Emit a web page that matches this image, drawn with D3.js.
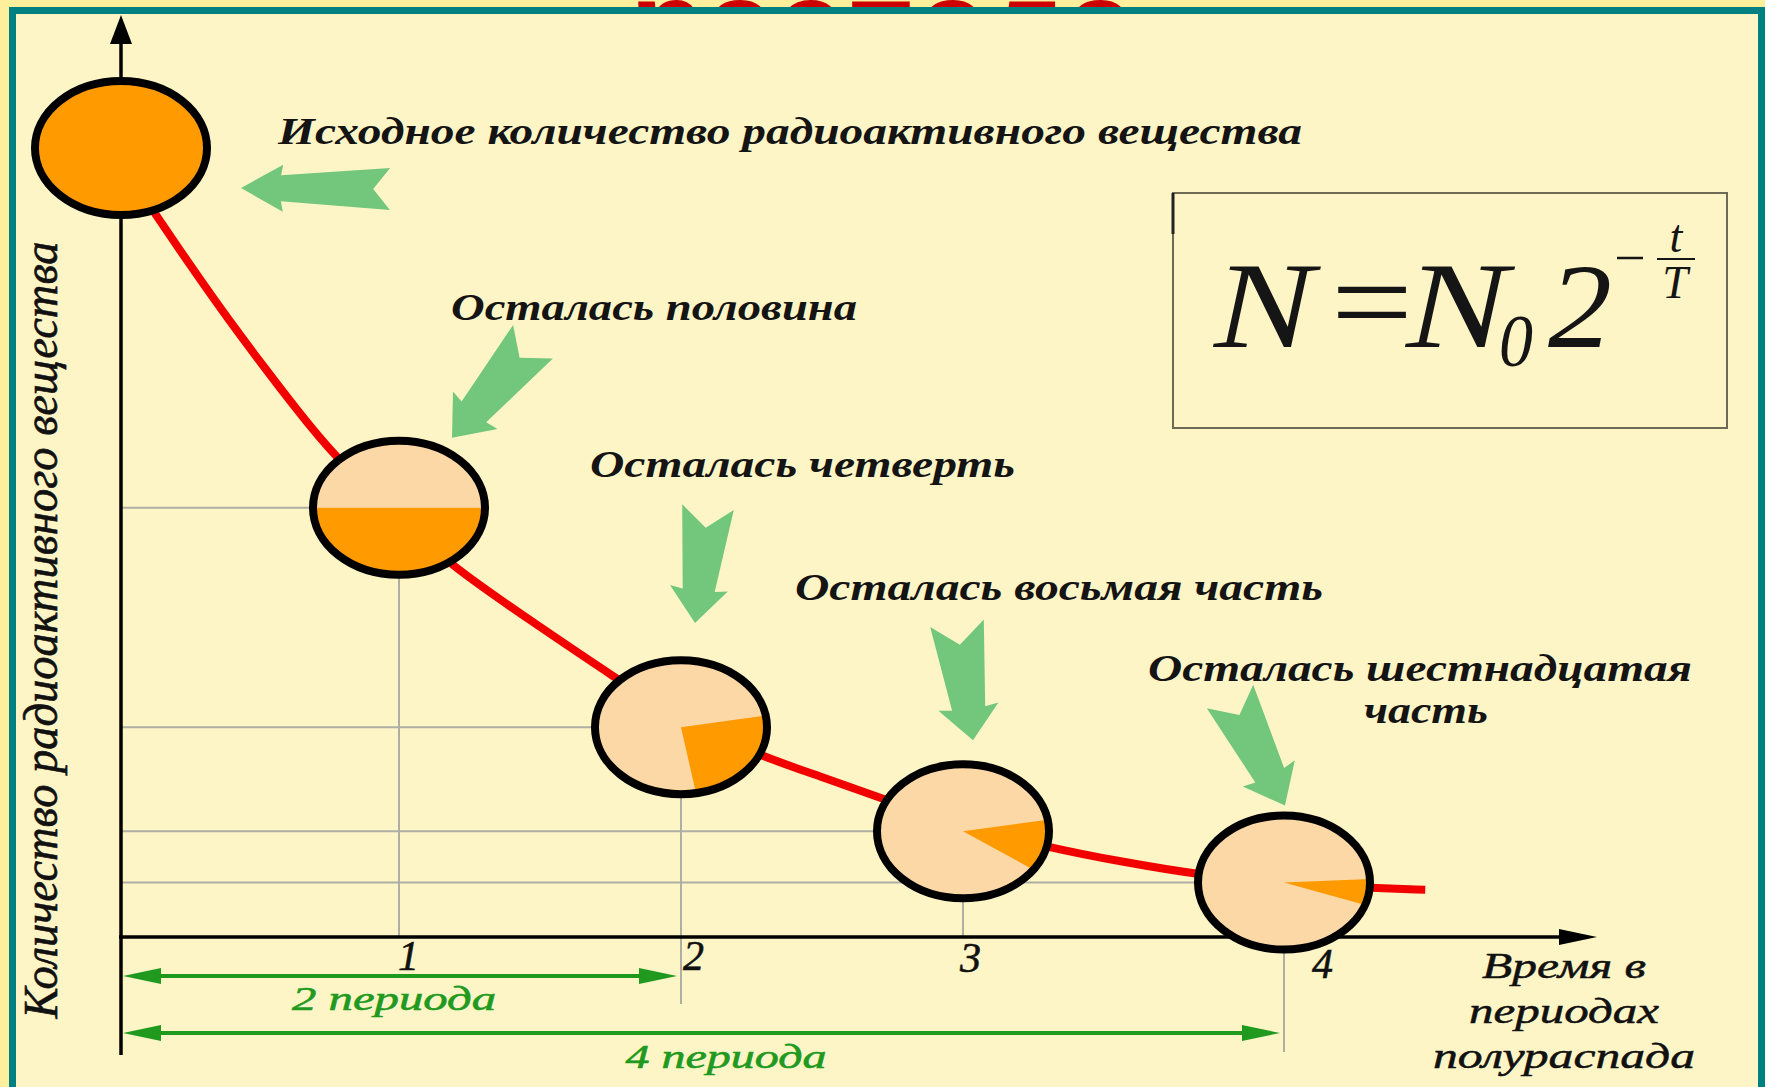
<!DOCTYPE html>
<html>
<head>
<meta charset="utf-8">
<script src="https://cdn.jsdelivr.net/npm/d3@7"></script>
<style>
  html, body { margin: 0; padding: 0; background: #fdef9b; }
  svg { display: block; }
</style>
</head>
<body>
<div id="plot"></div>
<script>
// ---- data ----
var periods = [0, 1, 2, 3, 4];
var amount = [100, 54.4, 26.6, 13.4, 6.9];          // % of N0, where each disc sits
var fraction = [1, 1 / 2, 1 / 4, 1 / 8, 1 / 16];     // orange share of each disc
var wedgeStart = [0, 90, 80, 80, 87];                // deg, clockwise from 12 o'clock
var tickLabels = ['1', '2', '3', '4'];
var curveT = [0.03, 0.13, 0.273, 0.392, 0.511, 0.633, 0.763, 1.0, 1.19, 1.475, 1.76, 2.0, 2.29, 2.5, 2.70, 3.0, 3.27, 3.5, 3.73, 4.0, 4.27, 4.44];
var curveN = [96.5, 91.3, 83.9, 78.0, 72.4, 66.8, 61.1, 53.0, 46.9, 39.9, 33.0, 27.5, 22.8, 20.3, 17.7, 14.1, 11.3, 9.5, 7.9, 6.8, 6.2, 6.0];
var captions = [
    ['Исходное количество радиоактивного вещества'],
    ['Осталась половина'],
    ['Осталась четверть'],
    ['Осталась восьмая часть'],
    ['Осталась шестнадцатая', 'часть']
];
var spans = [2, 4];
var spanLabels = ['2 периода', '4 периода'];
var yTitle = 'Количество радиоактивного вещества';
var xTitle = ['Время в', 'периодах', 'полураспада'];

var W = 1765, H = 1087;
var serif = '"Liberation Serif", "Times New Roman", serif';
var orange = '#ff9a00', peach = '#fbd8a6', callGreen = '#72c77c', dimGreen = '#1f9a1f';

var svg = d3.select('#plot')
    .append('svg')
    .attr('width', W)
    .attr('height', H);

// x is not evenly spaced in the picture, so a piecewise scale
var x = d3.scaleLinear().domain(periods).range([121, 399, 681, 963, 1284]);
var y = d3.scaleLinear().domain([0, 100]).range([937, 148]);

svg.append('rect').attr('width', W).attr('height', H).attr('fill', '#fdef9b');

// title of the slide, mostly hidden behind the panel
svg.append('text')
    .attr('x', 630).attr('y', 67)
    .attr('font-family', '"Liberation Sans", Arial, sans-serif')
    .attr('font-weight', 'bold')
    .attr('font-size', 124)
    .attr('fill', '#cc0000')
    .attr('textLength', 505)
    .attr('lengthAdjust', 'spacingAndGlyphs')
    .text('распада');

svg.append('rect')
    .attr('x', 12.5).attr('y', 10.5)
    .attr('width', 1749).attr('height', 1200)
    .attr('fill', '#fef5c6')
    .attr('stroke', '#008080')
    .attr('stroke-width', 7);

var pts = periods.map(function (p, i) {
    return { t: p, n: amount[i], f: fraction[i], a0: wedgeStart[i] };
});

// grid lines
var dimY = [976, 1033];
var grid = svg.append('g').attr('stroke', '#aeaea4').attr('stroke-width', 2);
grid.selectAll('line.h')
    .data(pts.slice(1))
    .enter().append('line')
    .attr('x1', x(0)).attr('x2', function (d) { return x(d.t); })
    .attr('y1', function (d) { return y(d.n); }).attr('y2', function (d) { return y(d.n); });
grid.selectAll('line.v')
    .data(pts.slice(1))
    .enter().append('line')
    .attr('x1', function (d) { return x(d.t); }).attr('x2', function (d) { return x(d.t); })
    .attr('y1', function (d) { return y(d.n); })
    .attr('y2', function (d) {
        if (d.t === 2) return dimY[0] + 28;
        if (d.t === 4) return dimY[1] + 19;
        return y(0);
    });

// formula box
var fb = svg.append('g');
fb.append('rect')
    .attr('x', 1173).attr('y', 193)
    .attr('width', 554).attr('height', 235)
    .attr('fill', 'none').attr('stroke', '#6e6a58').attr('stroke-width', 2);
fb.append('line').attr('x1', 1173).attr('x2', 1173).attr('y1', 193).attr('y2', 234)
    .attr('stroke', '#222').attr('stroke-width', 3);
function ftext(str, xx, yy, size, opts) {
    opts = opts || {};
    var t = fb.append('text')
        .attr('x', xx).attr('y', yy)
        .attr('font-family', serif).attr('font-style', opts.upright ? 'normal' : 'italic')
        .attr('font-size', size)
        .attr('text-anchor', opts.anchor || 'start')
        .attr('fill', '#151515')
        .text(str);
    if (opts.len) t.attr('textLength', opts.len).attr('lengthAdjust', 'spacingAndGlyphs');
}
ftext('N', 1214, 347, 122, { len: 100 });
ftext('=', 1331, 344, 124, { upright: true, len: 82 });
ftext('N', 1406, 347, 122, { len: 102 });
ftext('0', 1499, 366, 74, { len: 34 });
ftext('2', 1548, 347, 120, { len: 64 });
fb.append('line').attr('x1', 1617).attr('x2', 1643).attr('y1', 258).attr('y2', 258)
    .attr('stroke', '#151515').attr('stroke-width', 2.5);
ftext('t', 1676, 252, 46, { anchor: 'middle' });
ftext('T', 1675, 298, 46, { anchor: 'middle' });
fb.append('line').attr('x1', 1657).attr('x2', 1695).attr('y1', 259).attr('y2', 259)
    .attr('stroke', '#151515').attr('stroke-width', 2);

// dimension arrows "2 периода", "4 периода"
var dim = svg.append('g');
spans.forEach(function (p, i) {
    var yy = dimY[i], x0 = x(0) + 2, x1 = x(p) - 4;
    dim.append('line')
        .attr('x1', x0 + 20).attr('x2', x1 - 20)
        .attr('y1', yy).attr('y2', yy)
        .attr('stroke', dimGreen).attr('stroke-width', 4);
    dim.append('path')
        .attr('d', 'M' + x0 + ',' + yy + 'L' + (x0 + 38) + ',' + (yy - 8) + 'L' + (x0 + 38) + ',' + (yy + 8) + 'Z')
        .attr('fill', dimGreen);
    dim.append('path')
        .attr('d', 'M' + x1 + ',' + yy + 'L' + (x1 - 38) + ',' + (yy - 8) + 'L' + (x1 - 38) + ',' + (yy + 8) + 'Z')
        .attr('fill', dimGreen);
});
var spanText = [{ cx: 394, y: 1010, w: 204 }, { cx: 726, y: 1068, w: 201 }];
spanLabels.forEach(function (s, i) {
    dim.append('text')
        .attr('x', spanText[i].cx).attr('y', spanText[i].y)
        .attr('text-anchor', 'middle')
        .attr('font-family', serif).attr('font-style', 'italic')
        .attr('font-size', 33)
        .attr('fill', dimGreen)
        .attr('stroke', dimGreen).attr('stroke-width', 0.6)
        .attr('textLength', spanText[i].w)
        .attr('lengthAdjust', 'spacingAndGlyphs')
        .text(s);
});

// axes
var axes = svg.append('g');
axes.append('line')
    .attr('x1', x(0)).attr('x2', x(0))
    .attr('y1', 1055).attr('y2', 40)
    .attr('stroke', '#000').attr('stroke-width', 3.5);
axes.append('path')
    .attr('d', 'M' + x(0) + ',15L' + (x(0) - 11) + ',44L' + (x(0) + 11) + ',44Z')
    .attr('fill', '#000');
axes.append('line')
    .attr('x1', x(0) - 2).attr('x2', 1570)
    .attr('y1', y(0)).attr('y2', y(0))
    .attr('stroke', '#000').attr('stroke-width', 3.5);
axes.append('path')
    .attr('d', 'M1597,' + y(0) + 'L1559,' + (y(0) - 8) + 'L1559,' + (y(0) + 8) + 'Z')
    .attr('fill', '#000');

var tickDx = [9, 12, 7, 38], tickDy = [33, 33, 35, 41];
var xAxis = d3.axisBottom(x)
    .tickValues([1, 2, 3, 4])
    .tickSize(0)
    .tickFormat(function (d, i) { return tickLabels[i]; });
var gx = axes.append('g')
    .attr('transform', 'translate(0,' + y(0) + ')')
    .call(xAxis);
gx.select('.domain').remove();
gx.selectAll('text')
    .attr('dy', null)
    .attr('x', function (d, i) { return tickDx[i]; })
    .attr('y', function (d, i) { return tickDy[i]; })
    .attr('font-family', serif).attr('font-style', 'italic')
    .attr('font-size', 42)
    .attr('fill', '#111')
    .attr('stroke', '#111').attr('stroke-width', 0.6);

// decay curve
var curveData = curveT.map(function (t, i) { return { t: t, n: curveN[i] }; });
var line = d3.line()
    .x(function (d) { return x(d.t); })
    .y(function (d) { return y(d.n); })
    .curve(d3.curveBasis);
svg.append('path')
    .attr('d', line(curveData))
    .attr('fill', 'none')
    .attr('stroke', '#f20000')
    .attr('stroke-width', 8)
    .attr('stroke-linecap', 'butt');

// discs
var rx = 86, ry = 67;
var arc = d3.arc().innerRadius(0).outerRadius(ry);
var discs = svg.selectAll('g.disc')
    .data(pts)
    .enter().append('g')
    .attr('class', 'disc')
    .attr('transform', function (d) { return 'translate(' + x(d.t) + ',' + y(d.n) + ')'; });
discs.append('ellipse')
    .attr('rx', rx).attr('ry', ry)
    .attr('fill', peach);
discs.append('path')
    .attr('transform', 'scale(' + (rx / ry) + ',1)')
    .attr('d', function (d) {
        var a0 = d.a0 * Math.PI / 180;
        return arc({ startAngle: a0, endAngle: a0 + 2 * Math.PI * d.f });
    })
    .attr('fill', orange);
discs.append('ellipse')
    .attr('rx', rx).attr('ry', ry)
    .attr('fill', 'none')
    .attr('stroke', '#000')
    .attr('stroke-width', 8);

// call-out arrows
var callouts = [
    { tip: [120, 40], tail: [269, 41], w: 21, hl: 42 },
    { tip: [53, -70], tail: [134, -166], w: 26, hl: 36 },
    { tip: [14, -104], tail: [27, -220], w: 26, hl: 35 },
    { tip: [10, -91], tail: [-6, -208], w: 27, hl: 34 },
    { tip: [1, -77], tail: [-54, -186], w: 26, hl: 36 }
];
function arrowPath(tip, tail, w, hl) {
    var dx = tip[0] - tail[0], dy = tip[1] - tail[1];
    var L = Math.sqrt(dx * dx + dy * dy);
    var ux = dx / L, uy = dy / L, nx = -uy, ny = ux;
    function p(a, b) { return [tip[0] - ux * a + nx * b, tip[1] - uy * a + ny * b]; }
    var hw = 1.12 * w, sw = 0.62 * w, nd = 0.8 * w;
    var q = [p(0, 0), p(hl, hw), p(hl - 2, sw), p(L, w), p(L - nd, 0), p(L, -w), p(hl - 2, -sw), p(hl, -hw)];
    return 'M' + q.map(function (c) { return c[0].toFixed(1) + ',' + c[1].toFixed(1); }).join('L') + 'Z';
}
svg.append('g').selectAll('path')
    .data(callouts)
    .enter().append('path')
    .attr('d', function (c, i) {
        var cx = x(pts[i].t), cy = y(pts[i].n);
        return arrowPath([cx + c.tip[0], cy + c.tip[1]], [cx + c.tail[0], cy + c.tail[1]], c.w, c.hl);
    })
    .attr('fill', callGreen);

// captions
var capPos = [
    [{ x: 278, y: 144, w: 1024 }],
    [{ x: 451, y: 320, w: 406 }],
    [{ x: 590, y: 477, w: 425 }],
    [{ x: 795, y: 600, w: 528 }],
    [{ x: 1148, y: 681, w: 544 }, { x: 1364, y: 723, w: 124 }]
];
var capG = svg.append('g')
    .attr('font-family', serif).attr('font-style', 'italic').attr('font-weight', 'bold')
    .attr('font-size', 37).attr('fill', '#141414');
captions.forEach(function (lines, i) {
    lines.forEach(function (s, j) {
        var p = capPos[i][j];
        capG.append('text')
            .attr('x', p.x).attr('y', p.y)
            .attr('textLength', p.w)
            .attr('lengthAdjust', 'spacingAndGlyphs')
            .text(s);
    });
});

// axis titles
svg.append('text')
    .attr('transform', 'translate(57,630) rotate(-90) scale(1,1.27)')
    .attr('text-anchor', 'middle')
    .attr('font-family', serif).attr('font-style', 'italic')
    .attr('font-size', 39)
    .attr('fill', '#111')
    .attr('stroke', '#111').attr('stroke-width', 0.5)
    .attr('textLength', 777)
    .attr('lengthAdjust', 'spacingAndGlyphs')
    .text(yTitle);

var xtPos = [{ y: 978, w: 164 }, { y: 1023, w: 190 }, { y: 1068, w: 262 }];
xTitle.forEach(function (s, i) {
    svg.append('text')
        .attr('x', 1564).attr('y', xtPos[i].y)
        .attr('text-anchor', 'middle')
        .attr('font-family', serif).attr('font-style', 'italic')
        .attr('font-size', 35)
        .attr('fill', '#111')
        .attr('stroke', '#111').attr('stroke-width', 0.5)
        .attr('textLength', xtPos[i].w)
        .attr('lengthAdjust', 'spacingAndGlyphs')
        .text(s);
});
</script>
</body>
</html>
